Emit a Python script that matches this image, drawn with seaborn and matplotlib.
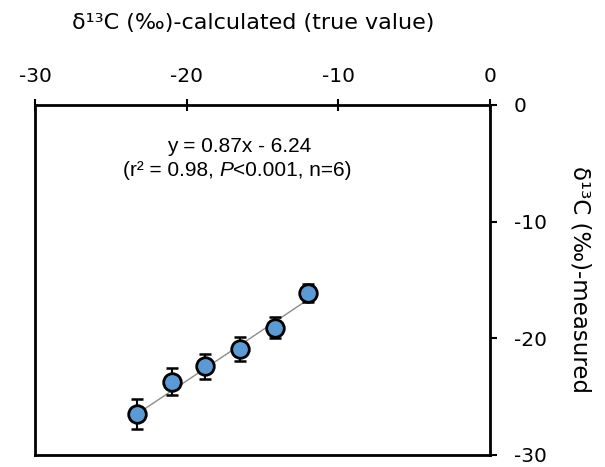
import matplotlib
matplotlib.use("Agg")
import matplotlib.pyplot as plt
import seaborn as sns
import numpy as np
import pandas as pd

# Data
calc_true = [-23.3, -21.0, -18.8, -16.5, -14.2, -12.0]
measured = [-26.5, -23.7, -22.4, -20.9, -19.1, -16.1]
err = [1.3, 1.15, 1.05, 1.0, 0.9, 0.75]
slope, intercept = 0.87, -6.24
x_ticks = [-30, -20, -10, 0]
y_ticks = [0, -10, -20, -30]

sns.set_style("white")
plt.rcParams['font.family'] = ['DejaVu Sans']
plt.rcParams['axes.unicode_minus'] = False
plt.rcParams['text.color'] = 'black'
plt.rcParams['axes.labelcolor'] = 'black'
plt.rcParams['xtick.color'] = 'black'
plt.rcParams['ytick.color'] = 'black'

fig = plt.figure(figsize=(6.05, 4.67), dpi=100)
ax = fig.add_axes([35/605, 1-455/467, (490-35)/605, (455-105)/467])

df = pd.DataFrame({"x": calc_true, "y": measured})

xl = np.array([min(calc_true), max(calc_true)])
ax.plot(xl, slope*xl + intercept, color="#8c8c8c", lw=1.0, zorder=1)
ax.errorbar(calc_true, measured, yerr=err, fmt="none", ecolor="black",
            elinewidth=1.5, capsize=4, capthick=1.8, zorder=2)
sns.scatterplot(data=df, x="x", y="y", ax=ax, s=160, color="#5b9bd5",
                edgecolor="black", linewidth=2.0, zorder=3, legend=False)

ax.set_xlim(-30, 0)
ax.set_ylim(-30, 0)
ax.set_xticks(x_ticks)
ax.set_yticks(y_ticks)
ax.xaxis.tick_top()
ax.yaxis.tick_right()
ax.xaxis.set_label_position("top")
ax.yaxis.set_label_position("right")
ax.tick_params(axis="x", direction="inout", length=8, width=1.5, labelsize=14.5, pad=10)
ax.tick_params(axis="y", direction="out", length=5, width=1.5, labelsize=14.5, pad=12)
for s in ax.spines.values():
    s.set_visible(True)
    s.set_linewidth(2)
    s.set_color("black")

ax.set_xlabel("δ¹³C (‰)-calculated (true value)", fontsize=16, labelpad=27)
ax.set_ylabel("δ¹³C (‰)-measured", fontsize=16.5, rotation=-90, labelpad=32)
ax.xaxis.label.set_x(0.48)

fs = 15
ax.text(-21.3, -3.6, "y = 0.87x - 6.24", ha="left", va="center",
        fontsize=fs, family="Liberation Sans")
t1 = ax.text(-24.2, -5.6, "(r² = 0.98, ", ha="left", va="center",
             fontsize=fs, family="Liberation Sans")
t2 = ax.annotate("P", xy=(1, 0), xycoords=t1, ha="left", va="bottom",
                 fontsize=fs, family="Liberation Sans", style="italic")
ax.annotate("<0.001, n=6)", xy=(1, 0), xycoords=t2, ha="left", va="bottom",
            fontsize=fs, family="Liberation Sans")

fig.savefig("out.png", dpi=100)
